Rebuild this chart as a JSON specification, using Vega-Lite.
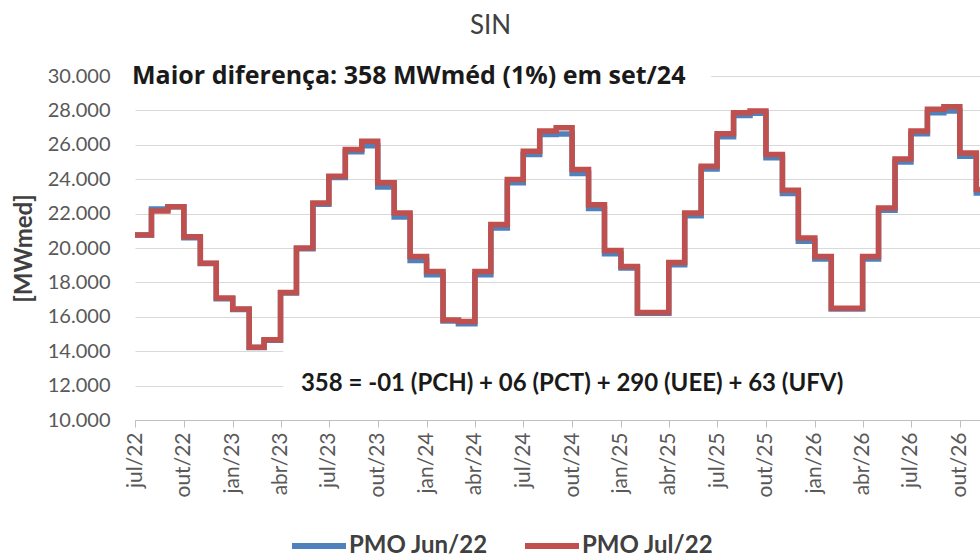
{
  "$schema": "https://vega.github.io/schema/vega-lite/v6.json",
  "width": 845,
  "height": 344,
  "autosize": {"type": "none"},
  "padding": {"left": 135, "top": 76, "right": 0, "bottom": 139},
  "background": "white",
  "title": {"text": "SIN", "anchor": "middle", "frame": "group", "dx": -67, "offset": 4, "baseline": "alphabetic", "fontSize": 26, "font": "Lato", "fontWeight": "normal", "color": "#404040"},
  "config": {"view": {"stroke": null}, "font": "Lato"},
  "data": {"values": [
    {"mes": "2022-07-01", "jun22": 20750, "jul22": 20750},
    {"mes": "2022-08-01", "jun22": 22270, "jul22": 22150},
    {"mes": "2022-09-01", "jun22": 22400, "jul22": 22400},
    {"mes": "2022-10-01", "jun22": 20600, "jul22": 20650},
    {"mes": "2022-11-01", "jun22": 19100, "jul22": 19120},
    {"mes": "2022-12-01", "jun22": 17050, "jul22": 17090},
    {"mes": "2023-01-01", "jun22": 16420, "jul22": 16450},
    {"mes": "2023-02-01", "jun22": 14220, "jul22": 14230},
    {"mes": "2023-03-01", "jun22": 14640, "jul22": 14660},
    {"mes": "2023-04-01", "jun22": 17380, "jul22": 17420},
    {"mes": "2023-05-01", "jun22": 19950, "jul22": 20000},
    {"mes": "2023-06-01", "jun22": 22550, "jul22": 22620},
    {"mes": "2023-07-01", "jun22": 24100, "jul22": 24170},
    {"mes": "2023-08-01", "jun22": 25600, "jul22": 25730},
    {"mes": "2023-09-01", "jun22": 25950, "jul22": 26210},
    {"mes": "2023-10-01", "jun22": 23550, "jul22": 23790},
    {"mes": "2023-11-01", "jun22": 21800, "jul22": 22040},
    {"mes": "2023-12-01", "jun22": 19280, "jul22": 19510},
    {"mes": "2024-01-01", "jun22": 18450, "jul22": 18640},
    {"mes": "2024-02-01", "jun22": 15750, "jul22": 15820},
    {"mes": "2024-03-01", "jun22": 15600, "jul22": 15730},
    {"mes": "2024-04-01", "jun22": 18450, "jul22": 18640},
    {"mes": "2024-05-01", "jun22": 21160, "jul22": 21360},
    {"mes": "2024-06-01", "jun22": 23790, "jul22": 23980},
    {"mes": "2024-07-01", "jun22": 25440, "jul22": 25630},
    {"mes": "2024-08-01", "jun22": 26600, "jul22": 26800},
    {"mes": "2024-09-01", "jun22": 26632, "jul22": 26990},
    {"mes": "2024-10-01", "jun22": 24330, "jul22": 24560},
    {"mes": "2024-11-01", "jun22": 22290, "jul22": 22520},
    {"mes": "2024-12-01", "jun22": 19670, "jul22": 19860},
    {"mes": "2025-01-01", "jun22": 18830, "jul22": 18930},
    {"mes": "2025-02-01", "jun22": 16200, "jul22": 16250},
    {"mes": "2025-03-01", "jun22": 16200, "jul22": 16250},
    {"mes": "2025-04-01", "jun22": 19030, "jul22": 19160},
    {"mes": "2025-05-01", "jun22": 21880, "jul22": 22040},
    {"mes": "2025-06-01", "jun22": 24600, "jul22": 24760},
    {"mes": "2025-07-01", "jun22": 26470, "jul22": 26640},
    {"mes": "2025-08-01", "jun22": 27700, "jul22": 27860},
    {"mes": "2025-09-01", "jun22": 27830, "jul22": 27960},
    {"mes": "2025-10-01", "jun22": 25240, "jul22": 25440},
    {"mes": "2025-11-01", "jun22": 23170, "jul22": 23360},
    {"mes": "2025-12-01", "jun22": 20390, "jul22": 20580},
    {"mes": "2026-01-01", "jun22": 19360, "jul22": 19510},
    {"mes": "2026-02-01", "jun22": 16460, "jul22": 16500},
    {"mes": "2026-03-01", "jun22": 16460, "jul22": 16500},
    {"mes": "2026-04-01", "jun22": 19360, "jul22": 19510},
    {"mes": "2026-05-01", "jun22": 22190, "jul22": 22330},
    {"mes": "2026-06-01", "jun22": 25000, "jul22": 25180},
    {"mes": "2026-07-01", "jun22": 26640, "jul22": 26800},
    {"mes": "2026-08-01", "jun22": 27860, "jul22": 28060},
    {"mes": "2026-09-01", "jun22": 27960, "jul22": 28210},
    {"mes": "2026-10-01", "jun22": 25340, "jul22": 25530},
    {"mes": "2026-11-01", "jun22": 23200, "jul22": 23400},
    {"mes": "2026-12-01", "jun22": 21300, "jul22": 21500}
  ]},
  "layer": [
    {
      "data": {"values": [{}]},
      "mark": {"type": "rect", "fill": "white"},
      "encoding": {
        "x": {"datum": {"year": 2022, "month": 7, "date": 1, "utc": true}, "type": "temporal", "title": null,
          "scale": {"type": "utc", "domain": [{"year": 2022, "month": 7, "date": 1, "utc": true}, {"year": 2026, "month": 11, "date": 8, "utc": true}]},
          "axis": {"title": null, "grid": false, "domain": true, "domainColor": "#bfbfbf", "domainWidth": 1, "ticks": true, "tickColor": "#bfbfbf", "tickSize": 7, "labelAngle": 270, "labelAlign": "right", "labelBaseline": "middle", "labelFontSize": 21, "labelFont": "Lato", "labelColor": "#595959", "labelPadding": 5, "labelOverlap": false, "tickCount": {"interval": "month", "step": 3},
            "labelExpr": "['jan','fev','mar','abr','mai','jun','jul','ago','set','out','nov','dez'][utcmonth(datum.value)] + '/' + utcFormat(datum.value, '%y')"}},
        "x2": {"datum": {"year": 2025, "month": 6, "date": 20, "utc": true}},
        "y": {"datum": 29300, "type": "quantitative", "title": "[MWmed]",
          "scale": {"domain": [10000, 30000], "nice": false, "zero": false},
          "axis": {"title": "[MWmed]", "titleFontSize": 24, "titleFont": "Lato", "titleFontWeight": "bold", "titleColor": "#404040", "titlePadding": 11,
            "values": [10000, 12000, 14000, 16000, 18000, 20000, 22000, 24000, 26000, 28000, 30000], "tickCount": 20,
            "labelExpr": "replace(format(datum.value, ','), ',', '.')", "labelFontSize": 20, "labelFont": "Lato", "labelColor": "#595959", "labelPadding": 25, "labelOverlap": false,
            "ticks": false, "domain": false, "grid": true, "gridColor": "#d9d9d9", "gridWidth": 1}},
        "y2": {"datum": 30700}
      }
    },
    {
      "data": {"values": [{}]},
      "mark": {"type": "rect", "fill": "white", "clip": true},
      "encoding": {
        "x": {"datum": {"year": 2023, "month": 4, "date": 6, "utc": true}, "type": "temporal", "title": null},
        "x2": {"datum": {"year": 2026, "month": 11, "date": 8, "utc": true}},
        "y": {"datum": 10600, "type": "quantitative", "title": "[MWmed]",
          "axis": {"title": "[MWmed]", "titleFontSize": 24, "titleFont": "Lato", "titleFontWeight": "bold", "titleColor": "#404040", "titlePadding": 11,
            "values": [10000, 12000, 14000, 16000, 18000, 20000, 22000, 24000, 26000, 28000, 30000], "tickCount": 20,
            "labelExpr": "replace(format(datum.value, ','), ',', '.')", "labelFontSize": 20, "labelFont": "Lato", "labelColor": "#595959", "labelPadding": 25, "labelOverlap": false,
            "ticks": false, "domain": false, "grid": true, "gridColor": "#d9d9d9", "gridWidth": 1}},
        "y2": {"datum": 14700}
      }
    },
    {
      "mark": {"type": "line", "interpolate": "step-after", "strokeWidth": 5.5, "clip": true, "strokeJoin": "miter"},
      "encoding": {
        "x": {"field": "mes", "type": "temporal", "title": null},
        "y": {"field": "jun22", "type": "quantitative", "title": "[MWmed]",
          "axis": {"title": "[MWmed]", "titleFontSize": 24, "titleFont": "Lato", "titleFontWeight": "bold", "titleColor": "#404040", "titlePadding": 11,
            "values": [10000, 12000, 14000, 16000, 18000, 20000, 22000, 24000, 26000, 28000, 30000], "tickCount": 20,
            "labelExpr": "replace(format(datum.value, ','), ',', '.')", "labelFontSize": 20, "labelFont": "Lato", "labelColor": "#595959", "labelPadding": 25, "labelOverlap": false,
            "ticks": false, "domain": false, "grid": true, "gridColor": "#d9d9d9", "gridWidth": 1}},
        "color": {"datum": "PMO Jun/22", "type": "nominal",
          "scale": {"domain": ["PMO Jun/22", "PMO Jul/22"], "range": ["#4F81BD", "#C0504D"]},
          "legend": {"orient": "none", "legendX": 154, "legendY": 440, "direction": "horizontal", "title": null, "padding": 0,
            "symbolType": "stroke", "symbolSize": 2916, "symbolStrokeWidth": 6,
            "labelFontSize": 24, "labelFont": "Lato", "labelFontWeight": "bold", "labelColor": "#404040", "labelOffset": 0, "columnPadding": 25, "labelLimit": 300}}
      }
    },
    {
      "mark": {"type": "line", "interpolate": "step-after", "strokeWidth": 5.5, "clip": true, "strokeJoin": "miter"},
      "encoding": {
        "x": {"field": "mes", "type": "temporal", "title": null},
        "y": {"field": "jul22", "type": "quantitative", "title": "[MWmed]",
          "axis": {"title": "[MWmed]", "titleFontSize": 24, "titleFont": "Lato", "titleFontWeight": "bold", "titleColor": "#404040", "titlePadding": 11,
            "values": [10000, 12000, 14000, 16000, 18000, 20000, 22000, 24000, 26000, 28000, 30000], "tickCount": 20,
            "labelExpr": "replace(format(datum.value, ','), ',', '.')", "labelFontSize": 20, "labelFont": "Lato", "labelColor": "#595959", "labelPadding": 25, "labelOverlap": false,
            "ticks": false, "domain": false, "grid": true, "gridColor": "#d9d9d9", "gridWidth": 1}},
        "color": {"datum": "PMO Jul/22", "type": "nominal"}
      }
    },
    {
      "data": {"values": [{}]},
      "mark": {"type": "text", "align": "left", "baseline": "middle", "dx": -3, "fontSize": 25, "fontWeight": "bold", "font": "Open Sans", "color": "#1a1a1a", "text": "Maior diferença: 358 MWméd (1%) em set/24"},
      "encoding": {
        "x": {"datum": {"year": 2022, "month": 7, "date": 1, "utc": true}, "type": "temporal", "title": null},
        "y": {"datum": 30000, "type": "quantitative", "title": "[MWmed]"}
      }
    },
    {
      "data": {"values": [{}]},
      "mark": {"type": "text", "align": "center", "baseline": "middle", "fontSize": 24, "fontWeight": "bold", "font": "Lato", "color": "#1a1a1a", "text": "358 = -01 (PCH) + 06 (PCT) + 290 (UEE) + 63 (UFV)"},
      "encoding": {
        "x": {"datum": {"year": 2024, "month": 10, "date": 1, "utc": true}, "type": "temporal", "title": null},
        "y": {"datum": 12100, "type": "quantitative", "title": "[MWmed]"}
      }
    }
  ]
}
